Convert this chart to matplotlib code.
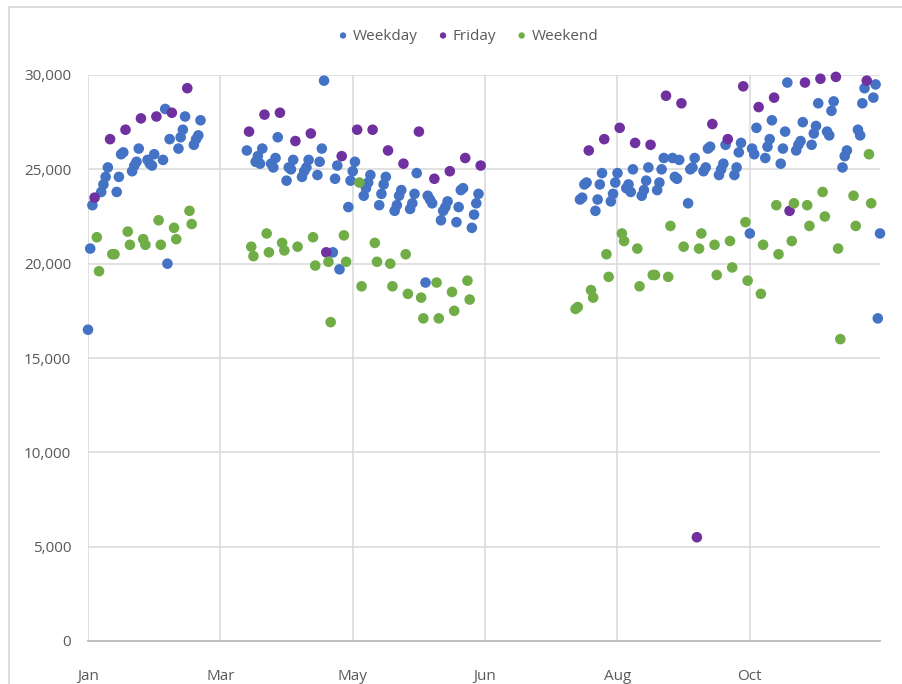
import pandas as pd
import matplotlib.pyplot as plt
from matplotlib.patches import Rectangle
from matplotlib.ticker import FuncFormatter, MultipleLocator
import matplotlib.dates as mdates

plt.rcParams['font.family'] = ['Open Sans', 'DejaVu Sans']

# daily totals for 2019, keyed by day offset from 1 Jan
weekday_days = [0, 1, 2, 6, 7, 8, 9, 13, 14, 15, 16, 20, 21, 22, 23,
                27, 28, 29, 30, 34, 35, 36, 37, 41, 42, 43, 44, 48, 49, 50, 51,
                72, 76, 77, 78, 79, 83, 84, 85, 86, 90, 91, 92, 93,
                97, 98, 99, 100, 104, 105, 106, 107, 111, 112, 113, 114,
                118, 119, 120, 121, 125, 126, 127, 128, 132, 133, 134, 135,
                139, 140, 141, 142, 146, 147, 148, 149, 153, 154, 155, 156,
                160, 161, 162, 163, 167, 168, 169, 170, 174, 175, 176, 177,
                223, 224, 225, 226, 230, 231, 232, 233, 237, 238, 239, 240,
                244, 245, 246, 247, 251, 252, 253, 254, 258, 259, 260, 261,
                265, 266, 267, 268, 272, 273, 274, 275, 279, 280, 281, 282,
                286, 287, 288, 289, 293, 294, 295, 296, 300, 301, 302, 303,
                307, 308, 309, 310, 314, 315, 316, 317, 321, 322, 323, 324,
                328, 329, 330, 331, 335, 336, 337, 338, 342, 343, 344,
                349, 350, 351, 352, 356, 357, 358, 359]
weekday_vals = [16500, 20800, 23100, 23800, 24200, 24600, 25100,
                23800, 24600, 25800, 25900, 24900, 25200, 25400, 26100,
                25500, 25300, 25200, 25800, 25500, 28200, 20000, 26600,
                26100, 26700, 27100, 27800, 26300, 26600, 26800, 27600,
                26000, 25400, 25700, 25300, 26100, 25300, 25100, 25600, 26700,
                24400, 25100, 25000, 25500, 24600, 24900, 25100, 25500,
                24700, 25400, 26100, 29700, 20600, 24500, 25200, 19700,
                23000, 24400, 24900, 25400, 23600, 24000, 24300, 24700,
                23100, 23700, 24200, 24600, 22800, 23100, 23600, 23900,
                22900, 23200, 23700, 24800, 19000, 23600, 23400, 23200,
                22300, 22800, 23000, 23300, 22200, 23000, 23900, 24000,
                21900, 22600, 23200, 23700,
                23400, 23500, 24200, 24300, 22800, 23400, 24200, 24800,
                23300, 23700, 24300, 24800, 24000, 24200, 23800, 25000,
                23600, 23900, 24400, 25100, 23900, 24300, 25000, 25600,
                25600, 24600, 24500, 25500, 23200, 25000, 25100, 25600,
                24900, 25100, 26100, 26200, 24700, 25000, 25300, 26300,
                24700, 25100, 25900, 26400, 21600, 26100, 25800, 27200,
                25600, 26200, 26600, 27600, 25300, 26100, 27000, 29600,
                26000, 26300, 26500, 27500, 26300, 26900, 27300, 28500,
                27000, 26800, 28100, 28600, 25100, 25700, 26000,
                27100, 26800, 28500, 29300, 28800, 29500, 17100, 21600]

friday_days = [3, 10, 17, 24, 31, 38, 45,
               73, 80, 87, 94, 101, 108, 115, 122, 129, 136, 143, 150, 157,
               164, 171, 178,
               227, 234, 241, 248, 255, 262, 269, 276, 283, 290, 297, 304,
               311, 318, 325, 332, 339, 353]
friday_vals = [23500, 26600, 27100, 27700, 27800, 28000, 29300,
               27000, 27900, 28000, 26500, 26900, 20600, 25700, 27100, 27100,
               26000, 25300, 27000, 24500, 24900, 25600, 25200,
               26000, 26600, 27200, 26400, 26300, 28900, 28500, 5500, 27400,
               26600, 29400, 28300, 28800, 22800, 29600, 29800, 29900, 29700]

weekend_days = [4, 5, 11, 12, 18, 19, 25, 26, 32, 33, 39, 40, 46, 47,
                74, 75, 81, 82, 88, 89, 95, 102, 103, 109, 110, 116, 117,
                123, 124, 130, 131, 137, 138, 144, 145, 151, 152, 158, 159,
                165, 166, 172, 173,
                221, 222, 228, 229, 235, 236, 242, 243, 249, 250, 256, 257,
                263, 264, 270, 277, 278, 284, 285, 291, 292, 298, 299,
                305, 306, 312, 313, 319, 320, 326, 327, 333, 334, 340, 341,
                347, 348, 354, 355]
weekend_vals = [21400, 19600, 20500, 20500, 21700, 21000, 21300, 21000,
                22300, 21000, 21900, 21300, 22800, 22100,
                20900, 20400, 21600, 20600, 21100, 20700, 20900, 21400, 19900,
                20100, 16900, 21500, 20100, 24300, 18800, 21100, 20100,
                20000, 18800, 20500, 18400, 18200, 17100, 19000, 17100,
                18500, 17500, 19100, 18100,
                17600, 17700, 18600, 18200, 20500, 19300, 21600, 21200,
                20800, 18800, 19400, 19400, 19300, 22000, 20900, 20800, 21600,
                21000, 19400, 21200, 19800, 22200, 19100, 18400, 21000,
                23100, 20500, 21200, 23200, 23100, 22000, 23800, 22500,
                20800, 16000, 23600, 22000, 25800, 23200]

series = [
    ('Weekday', weekday_days, weekday_vals, '#4472C4'),
    ('Friday', friday_days, friday_vals, '#7030A0'),
    ('Weekend', weekend_days, weekend_vals, '#70AD47'),
]

start = pd.Timestamp('2019-01-01')
text_color = '#595959'

fig = plt.figure(figsize=(9.03, 6.84), dpi=100)
ax = fig.add_axes([88 / 903, 1 - 641 / 684, 792 / 903, 566 / 684])

for name, days, vals, color in series:
    dates = start + pd.to_timedelta(days, unit='D')
    ax.scatter(dates, vals, s=58, color=color, edgecolors='none',
               label=name, zorder=3, clip_on=False)

# date axis: a tick every 60 days, labelled by month
ticks = pd.date_range(start, periods=6, freq='60D')
ax.set_xticks(ticks)
ax.xaxis.set_major_formatter(mdates.DateFormatter('%b'))
ax.set_xlim(start, start + pd.Timedelta(days=359))

ax.set_ylim(0, 30000)
ax.yaxis.set_major_locator(MultipleLocator(5000))
ax.yaxis.set_major_formatter(FuncFormatter(lambda v, p: f'{v:,.0f}'))

ax.grid(True, color='#d9d9d9', linewidth=1.1, zorder=0)
ax.set_axisbelow(True)
for side in ['top', 'right', 'left']:
    ax.spines[side].set_visible(False)
ax.spines['bottom'].set_color('#bfbfbf')
ax.spines['bottom'].set_linewidth(1.4)

ax.tick_params(axis='both', length=0, labelsize=11, labelcolor=text_color)
ax.tick_params(axis='y', pad=12)
ax.tick_params(axis='x', pad=20)

fig.legend(loc='center', bbox_to_anchor=(468 / 903, 1 - 36 / 684), ncol=3,
           frameon=False, fontsize=11, labelcolor=text_color,
           markerscale=0.6, handlelength=0.7, handletextpad=0.3,
           columnspacing=1.3)

# outer chart border
fig.add_artist(Rectangle((9 / 903, -0.1), 1.2, 1.1 - 7 / 684,
                         transform=fig.transFigure, fill=False,
                         edgecolor='#d9d9d9', linewidth=1.3))

fig.savefig('out.png', dpi=100)
